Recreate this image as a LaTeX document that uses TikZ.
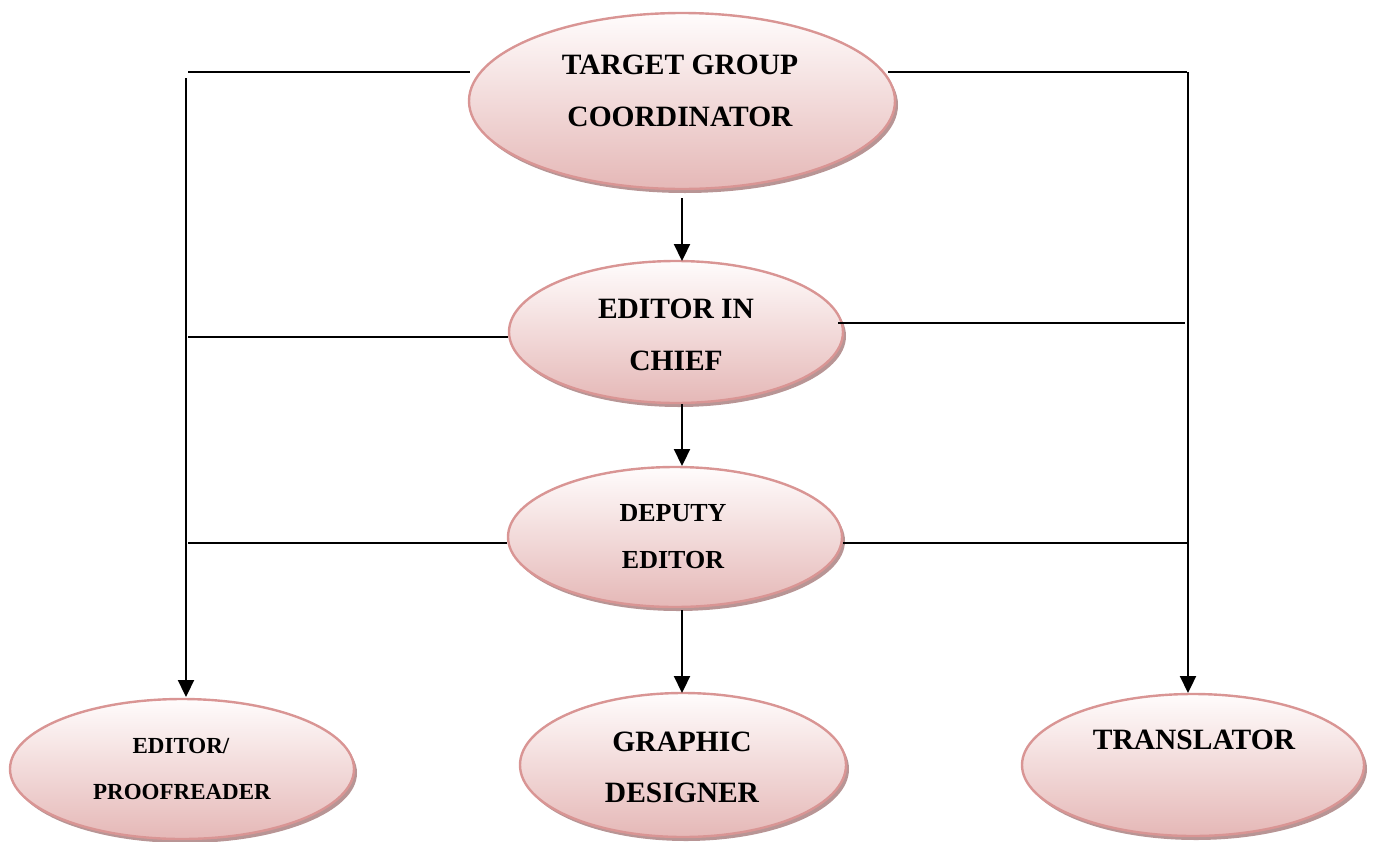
\documentclass[tikz,border=0pt]{standalone}
\usepackage{fontspec}
\setmainfont{Liberation Serif}
\usetikzlibrary{shapes.geometric,arrows.meta,shadows}
\definecolor{bordc}{HTML}{D99594}
\definecolor{topc}{HTML}{FFFCFC}
\definecolor{botc}{HTML}{E5B8B7}
\definecolor{shadc}{HTML}{B08A8A}
\tikzset{
  oval/.style={ellipse, draw=bordc, line width=2.4pt, top color=topc, bottom color=botc,
    inner sep=0pt, drop shadow={shadow xshift=3pt, shadow yshift=-4pt, fill=shadc, opacity=0.9}},
  lbl/.style={anchor=base, inner sep=0pt, font=\bfseries\fontsize{29.5}{34}\selectfont},
  lbls/.style={anchor=base, inner sep=0pt, font=\bfseries\fontsize{26}{30}\selectfont},
  lblx/.style={anchor=base, inner sep=0pt, font=\bfseries\fontsize{23}{28}\selectfont},
  conn/.style={line width=2.2pt},
  arr/.style={line width=2.2pt, -{Triangle[length=17pt,width=16pt]}}
}
\begin{document}
\begin{tikzpicture}[x=1pt,y=-1pt]
\useasboundingbox (0,0) rectangle (1373,841);
% ellipses
\node[oval, minimum width=426pt, minimum height=176pt] (tgc) at (682,101) {};
\node[oval, minimum width=334pt, minimum height=142pt] (eic) at (676,332) {};
\node[oval, minimum width=334pt, minimum height=140pt] (dep) at (675,537) {};
\node[oval, minimum width=344pt, minimum height=140pt] (epr) at (182,769) {};
\node[oval, minimum width=326pt, minimum height=144pt] (gd) at (683,765) {};
\node[oval, minimum width=342pt, minimum height=142pt] (tr) at (1193,765) {};
% labels
\node[lbl] (tgc1) at (680,74) {TARGET GROUP};
\node[lbl] (tgc2) at (680,126) {COORDINATOR};
\node[lbl] (eic1) at (676,318) {EDITOR IN};
\node[lbl] (eic2) at (676,370) {CHIEF};
\node[lbls] (dep1) at (673,521) {DEPUTY};
\node[lbls] (dep2) at (673,568) {EDITOR};
\node[lblx] (epr1) at (181,753) {EDITOR/};
\node[lblx] (epr2) at (182,799) {PROOFREADER};
\node[lbl] (gd1) at (682,751) {GRAPHIC};
\node[lbl] (gd2) at (682,802) {DESIGNER};
\node[lbl] (tr1) at (1194,749) {TRANSLATOR};
% connector points
\coordinate (lt) at (188,72);
\coordinate (lv) at (186,78);
\coordinate (rt) at (1187,72);
\coordinate (le) at (188,337);
\coordinate (re) at (1185,323);
\coordinate (ld) at (188,543);
\coordinate (rd) at (1188,543);
% horizontal connectors
\draw[conn] (lt) -- (470,72);
\draw[conn] (888,72) -- (rt);
\draw[conn] (le) -- (eic.west |- le);
\draw[conn] (838,323) -- (re);
\draw[conn] (ld) -- (dep.west |- ld);
\draw[conn] (dep.east |- rd) -- (rd);
% vertical arrows
\draw[arr] (lv) -- (186,697);
\draw[arr] (1188,72) -- (1188,693);
\draw[arr] (682,198) -- (682,261);
\draw[arr] (682,404) -- (682,466);
\draw[arr] (682,610) -- (682,693);
\end{tikzpicture}
\end{document}
